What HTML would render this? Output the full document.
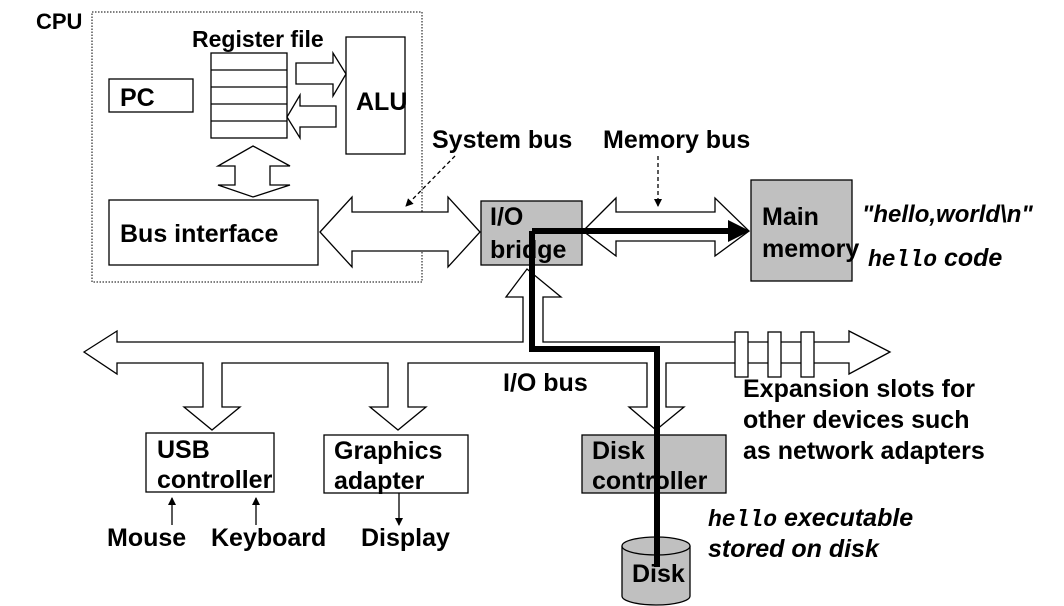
<!DOCTYPE html>
<html><head><meta charset="utf-8"><style>
html,body{margin:0;padding:0;background:#fff;}
svg{display:block;}
text{font-family:"Liberation Sans",Arial,sans-serif;font-weight:bold;font-size:25px;fill:#000;}
.it{font-style:italic;}
.mono{font-family:"Liberation Mono",monospace;font-style:italic;font-weight:bold;font-size:23px;}
</style></head><body>
<svg width="1064" height="606" viewBox="0 0 1064 606" xmlns="http://www.w3.org/2000/svg">
<defs>
<marker id="ah" markerWidth="8" markerHeight="8" refX="7" refY="4" orient="auto" markerUnits="userSpaceOnUse"><path d="M0,0 L8,4 L0,8 z" fill="#000"/></marker>
</defs>
<g fill="#fff" stroke="#000" stroke-width="1.3">
<rect x="92" y="12" width="330" height="270" fill="none" stroke-dasharray="1.5,1.5" stroke-width="1"/>
<rect x="211" y="53" width="76" height="85"/>
<line x1="211" y1="70" x2="287" y2="70"/><line x1="211" y1="87" x2="287" y2="87"/>
<line x1="211" y1="104" x2="287" y2="104"/><line x1="211" y1="121" x2="287" y2="121"/>
<rect x="346" y="37" width="59" height="117"/>
<rect x="109" y="79" width="84" height="33"/>
<rect x="109" y="200" width="209" height="65"/>
<polygon points="296,63 333,63 333,53 346,74 333,96 333,84 296,84"/>
<polygon points="336,106 300,106 300,95 287,117 300,138 300,127 336,127"/>
<polygon points="253,146 290,166 270,166 270,185 290,185 253,197 218,185 235,185 235,166 218,166"/>
<polygon points="320,232 352,197 352,212 448,212 448,197 480,232 448,267 448,251 352,251 352,267"/>
<polygon points="583,231 616,198 616,212 715,212 715,198 749,231 715,256 715,241 616,241 616,256"/>
<polygon points="84,352 117,331 117,342 523,342 523,297 506,297 527,269 561,297 543,297 543,342 849,342 849,331 890,352 849,374 849,363 666,363 666,407 684,407 656,430 629,407 647,407 647,363 408,363 408,407 426,407 398,430 370,407 388,407 388,363 222,363 222,407 240,407 212,430 184,407 203,407 203,363 117,363 117,374"/>
<rect x="735" y="332" width="13" height="45"/><rect x="768" y="332" width="13" height="45"/><rect x="801" y="332" width="13" height="45"/>
<rect x="481" y="201" width="101" height="64" fill="#c0c0c0"/>
<rect x="751" y="180" width="101" height="101" fill="#c0c0c0"/>
<rect x="146" y="433" width="128" height="59"/>
<rect x="324" y="435" width="144" height="58"/>
<rect x="582" y="435" width="144" height="58" fill="#c0c0c0"/>
<path d="M622,546 L622,596 A34,9 0 0 0 690,596 L690,546" fill="#c0c0c0"/>
<ellipse cx="656" cy="546" rx="34" ry="9" fill="#c0c0c0"/>
</g>
<g stroke="#000" stroke-width="1.3" fill="none">
<line x1="172" y1="525" x2="172" y2="498" marker-end="url(#ah)"/>
<line x1="256" y1="525" x2="256" y2="498" marker-end="url(#ah)"/>
<line x1="399" y1="493" x2="399" y2="525" marker-end="url(#ah)"/>
<line x1="455" y1="156" x2="406" y2="206" stroke-dasharray="4,3" marker-end="url(#ah)"/>
<line x1="658" y1="156" x2="658" y2="206" stroke-dasharray="4,3" marker-end="url(#ah)"/>
</g>
<polyline points="532,231 532,349 657,349 657,567" fill="none" stroke="#000" stroke-width="6"/>
<line x1="532" y1="231" x2="735" y2="231" stroke="#000" stroke-width="6"/>
<polygon points="750,231 728,220 728,242" fill="#000"/>
<text x="36" y="29" style="font-size:22px">CPU</text>
<text x="192" y="47" style="font-size:23px">Register file</text>
<text x="120" y="106">PC</text>
<text x="356" y="110">ALU</text>
<text x="120" y="242">Bus interface</text>
<text x="432" y="148">System bus</text>
<text x="603" y="148">Memory bus</text>
<text x="490" y="225">I/O</text>
<text x="490" y="258">bridge</text>
<text x="762" y="225">Main</text>
<text x="762" y="257">memory</text>
<text x="862" y="222" class="it" style="font-size:24px">"hello,world\n"</text>
<text x="868" y="266"><tspan class="mono">hello</tspan> <tspan class="it">code</tspan></text>
<text x="503" y="391">I/O bus</text>
<text x="743" y="397">Expansion slots for</text>
<text x="743" y="428">other devices such</text>
<text x="743" y="459">as network adapters</text>
<text x="157" y="458">USB</text>
<text x="157" y="488">controller</text>
<text x="334" y="459">Graphics</text>
<text x="334" y="489">adapter</text>
<text x="592" y="459">Disk</text>
<text x="592" y="489">controller</text>
<text x="107" y="546">Mouse</text>
<text x="211" y="546">Keyboard</text>
<text x="361" y="546">Display</text>
<text x="632" y="582">Disk</text>
<text x="708" y="526"><tspan class="mono">hello</tspan> <tspan class="it">executable</tspan></text>
<text x="708" y="557" class="it">stored on disk</text>
</svg>
</body></html>
